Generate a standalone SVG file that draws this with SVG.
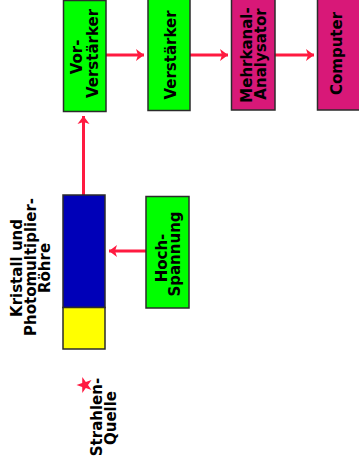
<svg xmlns="http://www.w3.org/2000/svg" width="359" height="463" viewBox="0 0 359 463">
<style>
.box{stroke:#2b2b2b;stroke-width:1.5}
.g{fill:#00ff00}
.m{fill:#d81878}
.t{font-family:"DejaVu Sans",sans-serif;font-weight:bold;font-size:15px;fill:#000;text-anchor:middle}
.c{stroke:#ff1a40;stroke-width:3;fill:none}
</style>
<defs>
<marker id="ah" markerUnits="userSpaceOnUse" markerWidth="10" markerHeight="14" refX="9" refY="7" orient="auto">
<path d="M1,1 L9,7 L1,13 L3,7 z" fill="#ff1a40"/>
</marker>
</defs>
<g id="connectors">
<line class="c" x1="106" y1="55" x2="144" y2="55" marker-end="url(#ah)"/>
<line class="c" x1="190" y1="55" x2="228" y2="55" marker-end="url(#ah)"/>
<line class="c" x1="275" y1="55" x2="314" y2="55" marker-end="url(#ah)"/>
<line class="c" x1="83.5" y1="195" x2="83.5" y2="116" marker-end="url(#ah)"/>
<line class="c" x1="146" y1="251" x2="109" y2="251" marker-end="url(#ah)"/>
</g>
<g id="vorverstaerker">
<rect class="box g" x="63.5" y="0.5" width="42.5" height="111"/>
<text class="t" transform="translate(82,57) rotate(-90)">Vor-</text>
<text class="t" transform="translate(97.5,53.5) rotate(-90)">Verstärker</text>
</g>
<g id="verstaerker">
<rect class="box g" x="148" y="-2" width="42" height="112.5"/>
<text class="t" transform="translate(176,55) rotate(-90)">Verstärker</text>
</g>
<g id="mehrkanal">
<rect class="box m" x="231.5" y="-2" width="43.5" height="112"/>
<text class="t" transform="translate(251.5,55) rotate(-90)">Mehrkanal-</text>
<text class="t" transform="translate(265.5,54) rotate(-90)">Analysator</text>
</g>
<g id="computer">
<rect class="box m" x="317.5" y="-2" width="45" height="112"/>
<text class="t" transform="translate(342,53.5) rotate(-90)">Computer</text>
</g>
<g id="kristall">
<rect class="box" x="63" y="195" width="42" height="112.5" fill="#0000b8"/>
<rect class="box" x="63" y="307.5" width="42" height="41.5" fill="#ffff00"/>
</g>
<g id="kristall-label">
<text class="t" transform="translate(21.5,268) rotate(-90)">Kristall und</text>
<text class="t" transform="translate(35.5,267) rotate(-90)">Photomultiplier-</text>
<text class="t" transform="translate(50,268) rotate(-90)">Röhre</text>
</g>
<g id="hochspannung">
<rect class="box g" x="146" y="196.5" width="43" height="111.5"/>
<text class="t" transform="translate(166.5,258) rotate(-90)">Hoch-</text>
<text class="t" transform="translate(180,254) rotate(-90)">Spannung</text>
</g>
<g id="quelle">
<path d="M76.5,385 L82.2,386.9 L82.3,392.9 L85.8,388.1 L91.5,389.9 L88,385 L91.5,380.1 L85.8,381.9 L82.3,377.1 L82.2,383.1 z" fill="#ff1a40"/>
<text class="t" transform="translate(101.5,417) rotate(-90)">Strahlen-</text>
<text class="t" transform="translate(116,418) rotate(-90)">Quelle</text>
</g>
</svg>
